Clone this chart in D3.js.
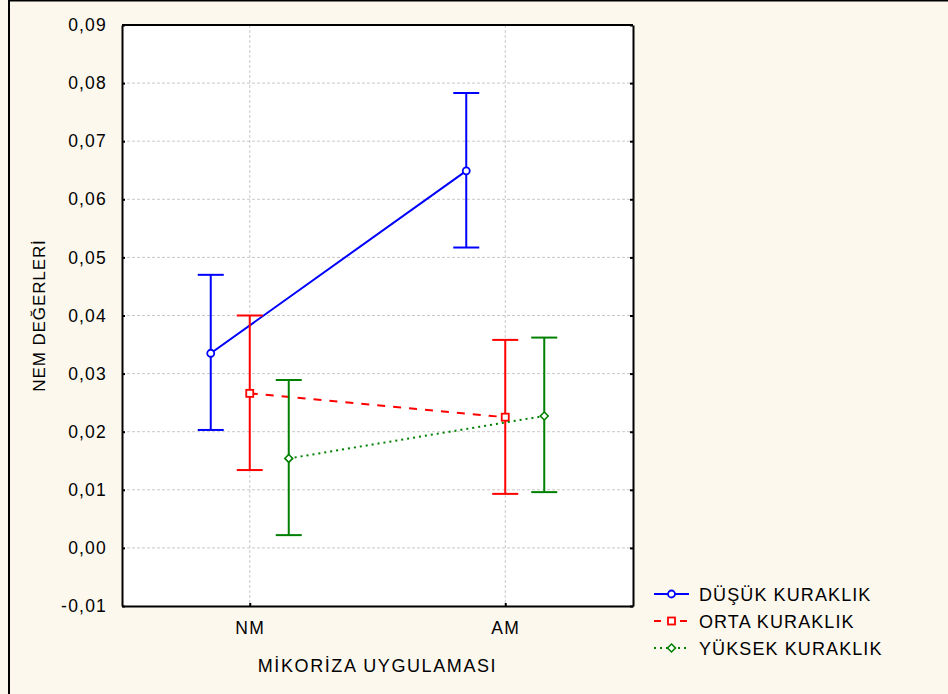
<!DOCTYPE html>
<html>
<head>
<meta charset="utf-8">
<script src="https://cdn.jsdelivr.net/npm/d3@7"></script>
<style>
  body { margin: 0; background: #fdf8ee; }
  svg { display: block; font-family: "Liberation Sans", Arial, sans-serif; }
</style>
</head>
<body>
<div id="chart"></div>
<script>
// categories and values
const groups = ["NM", "AM"];
const seriesNames = ["DÜŞÜK KURAKLIK", "ORTA KURAKLIK", "YÜKSEK KURAKLIK"];
const seriesColors = ["#0000ff", "#ff0000", "#008000"];
const meanValues = [[0.0335, 0.0649], [0.0266, 0.0225], [0.0154, 0.0227]];
const upperValues = [[0.0470, 0.0783], [0.0400, 0.0358], [0.0289, 0.0362]];
const lowerValues = [[0.0203, 0.0517], [0.0134, 0.0093], [0.0022, 0.0096]];
const yTicks = [-0.01, 0, 0.01, 0.02, 0.03, 0.04, 0.05, 0.06, 0.07, 0.08, 0.09];

const W = 948, H = 694;
const margin = { top: 25, left: 122, right: 315, bottom: 88 };
const plotW = W - margin.left - margin.right;
const plotH = H - margin.top - margin.bottom;

const svg = d3.select("#chart").append("svg")
    .attr("width", W)
    .attr("height", H);

// outer frame
svg.append("rect")
    .attr("x", 9).attr("y", 0.5)
    .attr("width", W + 10).attr("height", H + 10)
    .attr("fill", "#fdf8ee")
    .attr("stroke", "#000").attr("stroke-width", 2);

const g = svg.append("g")
    .attr("transform", "translate(" + margin.left + "," + margin.top + ")");

const x = d3.scalePoint().domain(groups).range([0, plotW]).padding(0.5);
const y = d3.scaleLinear().domain([-0.01, 0.09]).range([plotH, 0]);
const offset = d3.scalePoint().domain(d3.range(seriesNames.length)).range([-39, 39]);

g.append("rect")
    .attr("width", plotW).attr("height", plotH)
    .attr("fill", "#fff");

// gridlines
g.append("g").selectAll("line")
    .data(yTicks.slice(1, -1))
    .join("line")
    .attr("x1", 0).attr("x2", plotW)
    .attr("y1", d => y(d)).attr("y2", d => y(d))
    .attr("stroke", "#c8c8c8").attr("stroke-dasharray", "3,2");

g.append("g").selectAll("line")
    .data(groups)
    .join("line")
    .attr("x1", d => x(d)).attr("x2", d => x(d))
    .attr("y1", 0).attr("y2", plotH)
    .attr("stroke", "#c8c8c8").attr("stroke-dasharray", "3,2");

// axes
const fmt = d => d3.format(".2f")(d).replace(".", ",").replace("−", "-");
const yAxis = g.append("g")
    .call(d3.axisLeft(y).tickValues(yTicks).tickFormat(fmt).tickSizeInner(-3).tickSizeOuter(0).tickPadding(15));
const yAxisR = g.append("g").attr("transform", "translate(" + plotW + ",0)")
    .call(d3.axisRight(y).tickValues(yTicks).tickFormat("").tickSizeInner(-3).tickSizeOuter(0));
const xAxis = g.append("g").attr("transform", "translate(0," + plotH + ")")
    .call(d3.axisBottom(x).tickSizeInner(-3).tickSizeOuter(0).tickPadding(16));

[yAxis, yAxisR, xAxis].forEach(a => {
    a.selectAll("path, line").attr("stroke", "#000").attr("stroke-width", 2);
    a.selectAll("text").attr("fill", "#000")
        .style("font-size", "17.5px").style("letter-spacing", "1.2px");
});
xAxis.selectAll("text").style("letter-spacing", "1.5px");
g.append("line").attr("x1", 0).attr("x2", plotW).attr("y1", 0).attr("y2", 0)
    .attr("stroke", "#000").attr("stroke-width", 2);

// axis titles
svg.append("text")
    .attr("transform", "translate(45," + (margin.top + plotH / 2) + ") rotate(-90)")
    .attr("text-anchor", "middle")
    .style("font-size", "17px")
    .style("letter-spacing", "0.9px")
    .text("NEM DEĞERLERİ");

svg.append("text")
    .attr("x", margin.left + plotW / 2).attr("y", 672)
    .attr("text-anchor", "middle")
    .style("font-size", "18px")
    .style("letter-spacing", "1.6px")
    .text("MİKORİZA UYGULAMASI");

const dashes = [null, "8,8", "2,4"];

function marker(sel, i, cx, cy) {
    if (i === 0) {
        sel.append("circle").attr("cx", cx).attr("cy", cy).attr("r", 3.5)
            .attr("fill", "#fff").attr("stroke", seriesColors[i]).attr("stroke-width", 1.8);
    } else if (i === 1) {
        sel.append("rect").attr("x", cx - 3.5).attr("y", cy - 3.5).attr("width", 7).attr("height", 7)
            .attr("fill", "#fff").attr("stroke", seriesColors[i]).attr("stroke-width", 1.8);
    } else {
        sel.append("path").attr("d", d3.symbol(d3.symbolDiamond2, 40)())
            .attr("transform", "translate(" + cx + "," + cy + ")")
            .attr("fill", "#fff").attr("stroke", seriesColors[i]).attr("stroke-width", 1.6);
    }
}

seriesNames.forEach((name, i) => {
    const sg = g.append("g");
    const px = j => x(groups[j]) + offset(i);

    // connecting line
    sg.append("path")
        .datum(meanValues[i])
        .attr("d", d3.line().x((d, j) => px(j)).y(d => y(d)))
        .attr("fill", "none")
        .attr("stroke", seriesColors[i])
        .attr("stroke-width", 2)
        .attr("stroke-dasharray", dashes[i]);

    // error bars
    groups.forEach((grp, j) => {
        const cx = px(j);
        sg.append("line").attr("x1", cx).attr("x2", cx)
            .attr("y1", y(upperValues[i][j])).attr("y2", y(lowerValues[i][j]))
            .attr("stroke", seriesColors[i]).attr("stroke-width", 2);
        [upperValues[i][j], lowerValues[i][j]].forEach(v => {
            sg.append("line").attr("x1", cx - 13).attr("x2", cx + 13)
                .attr("y1", y(v)).attr("y2", y(v))
                .attr("stroke", seriesColors[i]).attr("stroke-width", 2);
        });
        marker(sg, i, cx, y(meanValues[i][j]));
    });
});

// legend
const legend = svg.append("g").attr("transform", "translate(654,594)");
seriesNames.forEach((name, i) => {
    const row = legend.append("g").attr("transform", "translate(0," + i * 27 + ")");
    row.append("line").attr("x1", 0).attr("x2", 35).attr("y1", 0).attr("y2", 0)
        .attr("stroke", seriesColors[i]).attr("stroke-width", 2)
        .attr("stroke-dasharray", i === 1 ? "7,6" : dashes[i]);
    marker(row, i, 17.5, 0);
    row.append("text").attr("x", 45).attr("y", 6.5)
        .style("font-size", "18px")
        .style("letter-spacing", "1.1px")
        .text(name);
});
</script>
</body>
</html>
